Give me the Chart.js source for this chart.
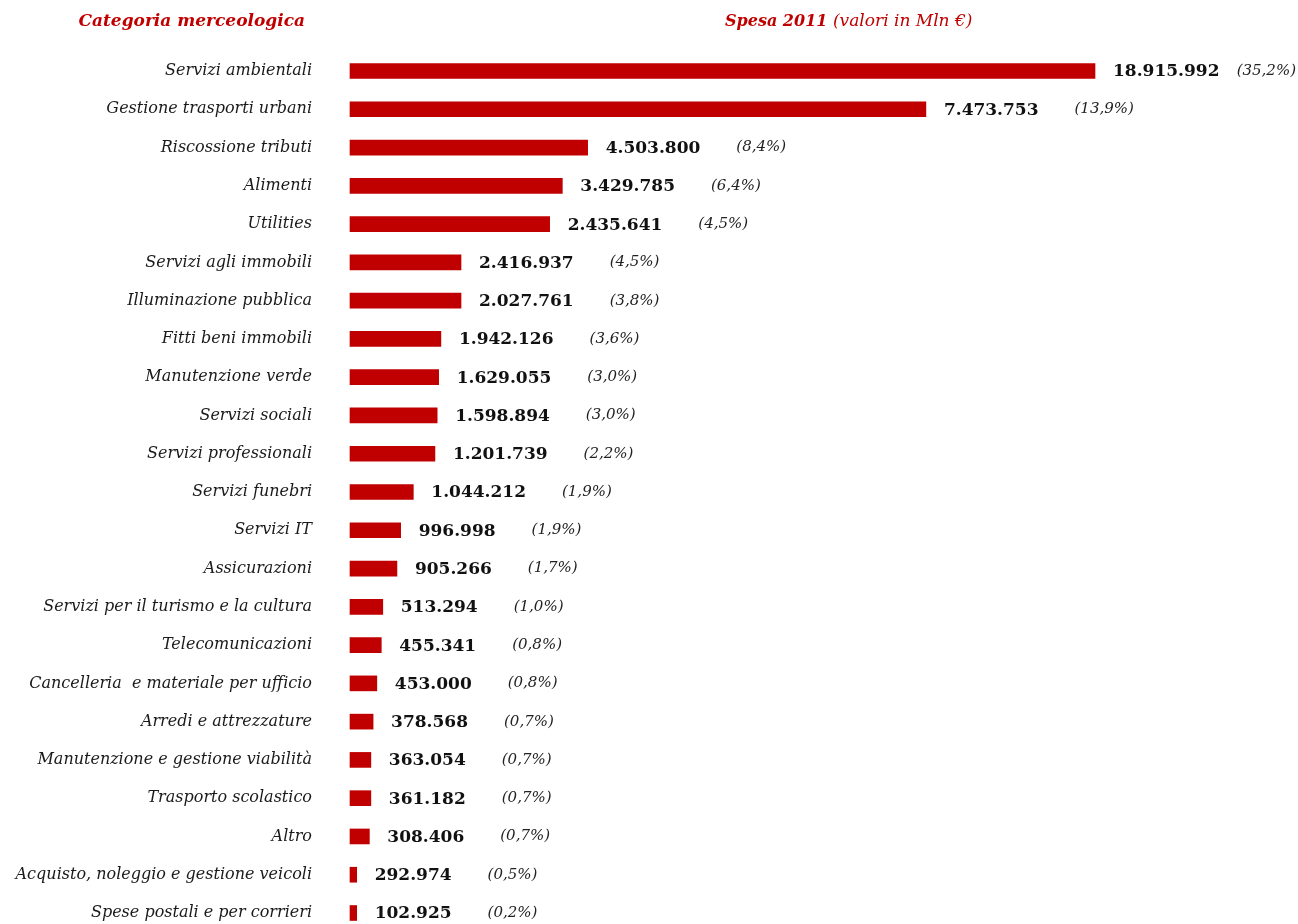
<!DOCTYPE html>
<html>
<head>
<meta charset="utf-8">
<script src="https://cdn.jsdelivr.net/npm/chart.js@4.4.0/dist/chart.umd.min.js"></script>
<style>
html, body { margin: 0; padding: 0; background: #fff; overflow: hidden; }
canvas { display: block; }
</style>
</head>
<body>
<canvas id="myChart" width="1298" height="924"></canvas>
<script>
const categorie = [
    "Servizi ambientali", "Gestione trasporti urbani", "Riscossione tributi", "Alimenti",
    "Utilities", "Servizi agli immobili", "Illuminazione pubblica", "Fitti beni immobili",
    "Manutenzione verde", "Servizi sociali", "Servizi professionali", "Servizi funebri",
    "Servizi IT", "Assicurazioni", "Servizi per il turismo e la cultura", "Telecomunicazioni",
    "Cancelleria  e materiale per ufficio", "Arredi e attrezzature",
    "Manutenzione e gestione viabilità", "Trasporto scolastico", "Altro",
    "Acquisto, noleggio e gestione veicoli", "Spese postali e per corrieri"
];
// spesa 2011 as printed next to each bar
const spesa = [18915992, 7473753, 4503800, 3429785, 2435641, 2416937, 2027761, 1942126,
    1629055, 1598894, 1201739, 1044212, 996998, 905266, 513294, 455341, 453000, 378568,
    363054, 361182, 308406, 292974, 102925];
const quota = [35.2, 13.9, 8.4, 6.4, 4.5, 4.5, 3.8, 3.6, 3.0, 3.0, 2.2, 1.9, 1.9, 1.7,
    1.0, 0.8, 0.8, 0.7, 0.7, 0.7, 0.7, 0.5, 0.2];
// bar lengths as drawn in the picture (longest bar = 100), they are not proportional to spesa
const lunghezzaBarre = [100, 77.3, 31.9, 28.5, 26.8, 14.9, 14.9, 12.2, 11.9, 11.7, 11.4,
    8.5, 6.8, 6.3, 4.4, 4.2, 3.6, 3.1, 2.8, 2.8, 2.6, 0.9, 0.9];

const rosso = "#c00000";
const serif = "'DejaVu Serif', Georgia, serif";

function fmtNum(n) {
    return String(n).replace(/\B(?=(\d{3})+(?!\d))/g, ".");
}
function fmtPct(p) {
    return "(" + p.toFixed(1).replace(".", ",") + "%)";
}

const etichette = {
    id: "etichette",
    afterDatasetsDraw(chart) {
        const ctx = chart.ctx;
        const meta = chart.getDatasetMeta(0);
        ctx.save();
        ctx.textBaseline = "middle";
        ctx.textAlign = "left";
        meta.data.forEach((bar, i) => {
            let x = bar.x + 18;
            ctx.font = "bold 17px " + serif;
            ctx.fillStyle = "#111";
            let t = fmtNum(spesa[i]);
            ctx.fillText(t, x, bar.y + 1);
            let w = ctx.measureText(t).width;
            ctx.font = "italic 15px " + serif;
            ctx.fillStyle = "#222";
            let p = fmtPct(quota[i]);
            let pw = ctx.measureText(p).width;
            let px = Math.min(x + w + 36, chart.width - pw - 2);
            ctx.fillText(p, px, bar.y);
        });
        // intestazioni
        ctx.fillStyle = rosso;
        ctx.font = "bold italic 17px " + serif;
        ctx.textAlign = "right";
        ctx.fillText("Categoria merceologica", 305, 22);
        ctx.textAlign = "left";
        let hx = 725;
        ctx.font = "bold italic 16px " + serif;
        ctx.fillText("Spesa 2011", hx, 22);
        hx += ctx.measureText("Spesa 2011 ").width;
        ctx.font = "italic 17px " + serif;
        ctx.fillText("(valori in Mln €)", hx, 22);
        ctx.restore();
    }
};

new Chart("myChart", {
    type: "bar",
    data: {
        labels: categorie,
        datasets: [{
            data: lunghezzaBarre,
            backgroundColor: rosso,
            barThickness: 15,
            clip: false
        }]
    },
    options: {
        indexAxis: "y",
        responsive: false,
        animation: false,
        layout: { padding: { left: 0, right: 203, top: 71, bottom: 11 } },
        scales: {
            x: { display: false, min: 0, max: 100 },
            y: {
                offset: false,
                grid: { display: false, drawTicks: false },
                border: { display: false },
                ticks: {
                    padding: 38,
                    autoSkip: false,
                    color: "#1a1a1a",
                    font: { family: serif, style: "italic", size: 16 }
                },
                afterFit(scale) {
                    scale.width = 350;
                    scale.paddingTop = 10;
                    scale.paddingBottom = 10;
                }
            }
        },
        plugins: {
            legend: { display: false },
            tooltip: { enabled: false }
        }
    },
    plugins: [etichette]
});
</script>
</body>
</html>
